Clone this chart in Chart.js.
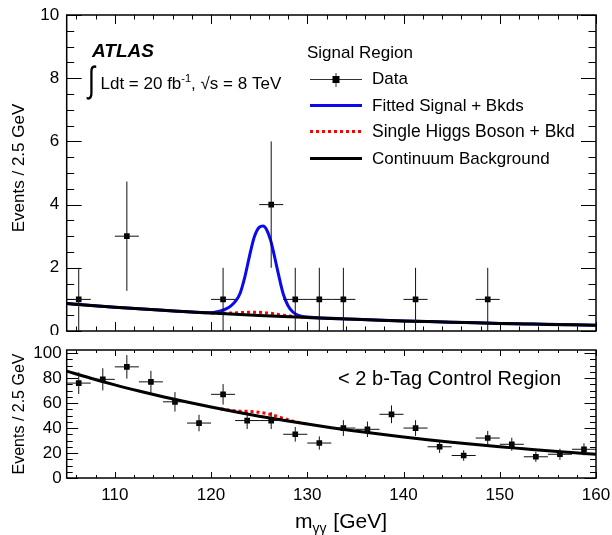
<!DOCTYPE html>
<html><head><meta charset="utf-8">
<script src="https://cdn.jsdelivr.net/npm/chart.js@4.4.1/dist/chart.umd.min.js"></script>
<style>
html,body{margin:0;padding:0;background:#fff;width:612px;height:535px;overflow:hidden}
#c1{position:absolute;left:0;top:0}
#c2{position:absolute;left:0;top:335px}
</style></head><body>
<canvas id="c1" width="612" height="335" style="width:612px;height:335px"></canvas>
<canvas id="c2" width="612" height="200" style="width:612px;height:200px"></canvas>
<script>
// ---------------- data ----------------
const binWidth = 2.5;
const xTicks = [110, 120, 130, 140, 150, 160];
const yTopTicks = [0, 2, 4, 6, 8, 10];
const yBotTicks = [0, 20, 40, 60, 80, 100];

// signal region data (bins with entries)
const sigX = [106.25, 111.25, 121.25, 126.25, 128.75, 131.25, 133.75, 141.25, 148.75];
const sigN = [1, 3, 1, 4, 1, 1, 1, 1, 1];
const sigErr = [1, 1.73, 1, 2, 1, 1, 1, 1, 1];

// <2 b-tag control region data
const ctrlX = [106.25, 108.75, 111.25, 113.75, 116.25, 118.75, 121.25, 123.75, 126.25, 128.75, 131.25,
               133.75, 136.25, 138.75, 141.25, 143.75, 146.25, 148.75, 151.25, 153.75, 156.25, 158.75];
const ctrlN = [76, 79, 89, 77, 61, 44, 67, 46, 46, 35, 28, 40, 39, 51, 40, 25, 18, 32, 27, 17, 19, 23];
const ctrlErr = [8.7, 8.9, 9.4, 8.8, 7.8, 6.6, 8.2, 6.8, 6.8, 5.9, 5.3, 6.3, 6.2, 7.1, 6.3, 5.0, 4.2, 5.7, 5.2, 4.1, 4.4, 4.8];

// curves
const curveX = [105, 107.5, 110, 112.5, 115, 117.5, 120, 122.5, 125, 127.5, 130, 132.5, 135, 137.5, 140,
                142.5, 145, 147.5, 150, 152.5, 155, 157.5, 160];
const bkgTopY = [0.87, 0.81, 0.754, 0.702, 0.654, 0.609, 0.567, 0.528, 0.491, 0.457, 0.426, 0.396, 0.369,
                 0.344, 0.32, 0.298, 0.277, 0.258, 0.24, 0.224, 0.208, 0.194, 0.18];
const fitTopX = [105, 110, 115, 118, 120, 120.5, 121, 121.5, 122, 122.5, 123, 123.5, 124, 124.5, 125, 125.4,
                 125.8, 126.2, 126.6, 127, 127.5, 128, 128.5, 129, 129.5, 130, 135, 140, 145, 150, 155, 160];
const fitTopY = [0.87, 0.754, 0.654, 0.60, 0.58, 0.60, 0.635, 0.69, 0.78, 0.93, 1.18, 1.70, 2.38, 2.98, 3.28, 3.32,
                 3.19, 2.86, 2.35, 1.80, 1.17, 0.80, 0.60, 0.50, 0.46, 0.44, 0.37, 0.32, 0.28, 0.24, 0.21, 0.18];
const higgsTopX = [120, 121, 122, 123, 124, 125, 126, 127, 128, 129, 130];
const higgsTopY = [0.567, 0.561, 0.566, 0.58, 0.595, 0.59, 0.567, 0.523, 0.48, 0.447, 0.426];

const bkgBotY = [85.6, 79.9, 74.6, 69.7, 65.1, 60.8, 56.8, 53.0, 49.5, 46.3, 43.2, 40.3, 37.7, 35.2, 32.9,
                 30.7, 28.7, 26.8, 25.0, 23.4, 21.8, 20.4, 19.0];
const higgsBotX = [121, 122, 123, 124, 125, 126, 127, 128, 129, 130];
const higgsBotY = [55.4, 54.2, 53.5, 53.3, 52.6, 51.2, 49.1, 46.6, 44.6, 43.2];

// ---------------- helpers ----------------
const FONT = '"Liberation Sans", Arial, Helvetica, sans-serif';
const pts = (xs, ys) => xs.map((x, i) => ({x: x, y: ys[i]}));

function curve(xs, ys, color, width, dash, order) {
  return {type: 'scatter', data: pts(xs, ys), showLine: true, borderColor: color, borderWidth: width,
          borderDash: dash || [], pointRadius: 0, cubicInterpolationMode: 'monotone', fill: false, order: order};
}
function points(xs, ys, errs) {
  return {type: 'scatter', data: pts(xs, ys), errY: errs, pointStyle: 'rect', pointRadius: 4,
          backgroundColor: '#000', borderColor: '#000', borderWidth: 0, order: 0};
}

const errorBars = {
  id: 'errorBars',
  afterDatasetsDraw(chart) {
    const {ctx, chartArea: a} = chart;
    const x = chart.scales.x, y = chart.scales.y;
    ctx.save();
    ctx.beginPath(); ctx.rect(a.left, a.top, a.width, a.height); ctx.clip();
    ctx.strokeStyle = '#111'; ctx.lineWidth = 1;
    chart.data.datasets.forEach(ds => {
      if (!ds.errY) return;
      ds.data.forEach((p, i) => {
        const px = x.getPixelForValue(p.x), py = y.getPixelForValue(p.y);
        const x0 = x.getPixelForValue(p.x - binWidth / 2), x1 = x.getPixelForValue(p.x + binWidth / 2);
        const y0 = y.getPixelForValue(p.y - ds.errY[i]), y1 = y.getPixelForValue(p.y + ds.errY[i]);
        ctx.beginPath();
        ctx.moveTo(x0, py); ctx.lineTo(x1, py);
        ctx.moveTo(px, y0); ctx.lineTo(px, y1);
        ctx.stroke();
      });
    });
    ctx.restore();
  }
};

function frame(cfg) {
  return {
    id: 'frame',
    afterDraw(chart) {
      const {ctx, chartArea: a} = chart;
      const x = chart.scales.x, y = chart.scales.y;
      ctx.save();
      ctx.strokeStyle = '#000'; ctx.lineWidth = 1;
      ctx.beginPath();
      for (let v = 106; v <= 160.0001; v += 2) {
        const px = Math.round(x.getPixelForValue(v)) + 0.5;
        const L = (Math.abs(v % 10) < 1e-6) ? cfg.xMaj : cfg.xMin;
        ctx.moveTo(px, a.bottom); ctx.lineTo(px, a.bottom - L);
        ctx.moveTo(px, a.top); ctx.lineTo(px, a.top + L);
      }
      for (let v = 0; v <= cfg.yMax + 1e-6; v += cfg.yMinorStep) {
        const py = Math.round(y.getPixelForValue(v)) + 0.5;
        const L = (Math.abs((v / cfg.yMajorStep) - Math.round(v / cfg.yMajorStep)) < 1e-6) ? cfg.yMaj : cfg.yMin;
        ctx.moveTo(a.left, py); ctx.lineTo(a.left + L, py);
        ctx.moveTo(a.right, py); ctx.lineTo(a.right - L, py);
      }
      ctx.stroke();
      ctx.lineWidth = 1.5;
      ctx.strokeRect(a.left, a.top, a.right - a.left, a.bottom - a.top);
      // y axis title
      ctx.fillStyle = '#000';
      ctx.save();
      ctx.translate(23.5, cfg.titleY);
      ctx.rotate(-Math.PI / 2);
      ctx.font = cfg.titleSize + 'px ' + FONT;
      ctx.textAlign = 'center'; ctx.textBaseline = 'alphabetic';
      ctx.fillText('Events / 2.5 GeV', 0, 0);
      ctx.restore();
      if (cfg.extra) cfg.extra(ctx, chart);
      ctx.restore();
    }
  };
}

function seg(ctx, s, x, y, size, style) {
  ctx.font = (style ? style + ' ' : '') + size + 'px ' + FONT;
  ctx.textAlign = 'left';
  ctx.fillText(s, x, y);
  return ctx.measureText(s).width;
}

function topExtra(ctx) {
  ctx.fillStyle = '#000';
  ctx.textBaseline = 'alphabetic';
  seg(ctx, 'ATLAS', 92, 57, 19, 'italic bold');
  // integral
  ctx.save();
  ctx.translate(88, 92);
  ctx.scale(1, 1.4);
  ctx.font = '26px ' + FONT;
  ctx.fillText('\u222B', 0, 0);
  ctx.restore();
  let xx = 100.5;
  xx += seg(ctx, 'Ldt = 20 fb', xx, 89, 17);
  xx += seg(ctx, '-1', xx, 82, 11);
  xx += seg(ctx, ', \u221As = 8 TeV', xx, 89, 17);
  // legend
  seg(ctx, 'Signal Region', 307, 58, 17);
  const lx0 = 310, lx1 = 362, tx = 372;
  const rows = [84, 110.5, 137, 164];
  seg(ctx, 'Data', tx, rows[0], 17);
  seg(ctx, 'Fitted Signal + Bkds', tx, rows[1], 17);
  seg(ctx, 'Single Higgs Boson + Bkd', tx, rows[2], 17.5);
  seg(ctx, 'Continuum Background', tx, rows[3], 17);
  // data marker
  ctx.strokeStyle = '#333'; ctx.lineWidth = 1;
  ctx.beginPath();
  ctx.moveTo(lx0, 79.5); ctx.lineTo(lx1, 79.5);
  ctx.moveTo(336, 73); ctx.lineTo(336, 87);
  ctx.stroke();
  ctx.fillStyle = '#000';
  ctx.fillRect(332.5, 76, 7, 7);
  // blue
  ctx.lineWidth = 3;
  ctx.strokeStyle = '#0a0aee';
  ctx.beginPath(); ctx.moveTo(lx0, 105.5); ctx.lineTo(lx1, 105.5); ctx.stroke();
  ctx.strokeStyle = '#ff0000'; ctx.setLineDash([3, 3]);
  ctx.beginPath(); ctx.moveTo(lx0, 131.5); ctx.lineTo(lx1, 131.5); ctx.stroke();
  ctx.setLineDash([]);
  ctx.strokeStyle = '#000';
  ctx.beginPath(); ctx.moveTo(lx0, 158.5); ctx.lineTo(lx1, 158.5); ctx.stroke();
}

function botExtra(ctx) {
  ctx.fillStyle = '#000';
  ctx.textBaseline = 'alphabetic';
  ctx.font = '20px ' + FONT;
  ctx.textAlign = 'right';
  ctx.fillText('< 2 b-Tag Control Region', 561, 50);
  // x title
  ctx.textAlign = 'left';
  const y0 = 193;
  let xx = 295;
  xx += seg(ctx, 'm', xx, y0, 21);
  xx += seg(ctx, '\u03B3\u03B3', xx, y0 + 5, 14);
  xx += seg(ctx, ' [GeV]', xx + 1, y0, 21);
}

Chart.defaults.font.family = FONT;
Chart.defaults.color = '#000';
Chart.defaults.animation = false;

const common = {
  responsive: false, maintainAspectRatio: false, animation: false,
  plugins: {legend: {display: false}, tooltip: {enabled: false}},
  events: []
};
const noPad = s => { s.width = 66.7; s.paddingTop = 0; s.paddingBottom = 0; };

new Chart(document.getElementById('c1'), {
  type: 'scatter',
  data: {datasets: [
    points(sigX, sigN, sigErr),
    curve(curveX, bkgTopY, '#000', 3, null, 1),
    curve(higgsTopX, higgsTopY, '#ff0000', 3, [3, 3], 2),
    curve(fitTopX, fitTopY, '#0a0aee', 3, null, 3)
  ]},
  options: Object.assign({}, common, {
    layout: {padding: {left: 0, right: 16, top: 15, bottom: 3}},
    scales: {
      x: {type: 'linear', min: 105, max: 160, display: false},
      y: {type: 'linear', min: 0, max: 10,
          afterBuildTicks: s => { s.ticks = yTopTicks.map(v => ({value: v})); },
          afterFit: noPad,
          ticks: {font: {size: 17, family: FONT}, color: '#000', padding: 7.5},
          grid: {display: false, drawTicks: false}, border: {display: false}}
    }
  }),
  plugins: [errorBars, frame({xMaj: 9, xMin: 4.5, yMaj: 15, yMin: 7.5, yMax: 10, yMinorStep: 0.5,
                               yMajorStep: 2, titleY: 168, titleSize: 17, extra: topExtra})]
});

new Chart(document.getElementById('c2'), {
  type: 'scatter',
  data: {datasets: [
    points(ctrlX, ctrlN, ctrlErr),
    curve(curveX, bkgBotY, '#000', 3, null, 1),
    curve(higgsBotX, higgsBotY, '#ff0000', 3, [3, 3], 2)
  ]},
  options: Object.assign({}, common, {
    layout: {padding: {left: 0, right: 16, top: 15, bottom: 0}},
    scales: {
      x: {type: 'linear', min: 105, max: 160,
          afterBuildTicks: s => { s.ticks = xTicks.map(v => ({value: v})); },
          afterFit: s => { s.height = 57; s.paddingLeft = 0; s.paddingRight = 0; },
          ticks: {font: {size: 17, family: FONT}, color: '#000', padding: 7, maxRotation: 0, autoSkip: false},
          grid: {display: false, drawTicks: false}, border: {display: false}},
      y: {type: 'linear', min: 0, max: 102.5,
          afterBuildTicks: s => { s.ticks = yBotTicks.map(v => ({value: v})); },
          afterFit: noPad,
          ticks: {font: {size: 17, family: FONT}, color: '#000', padding: 5},
          grid: {display: false, drawTicks: false}, border: {display: false}}
    }
  }),
  plugins: [errorBars, frame({xMaj: 6, xMin: 3, yMaj: 11.5, yMin: 6, yMax: 100, yMinorStep: 5,
                               yMajorStep: 20, titleY: 79, titleSize: 16, extra: botExtra})]
});
</script>
</body></html>
